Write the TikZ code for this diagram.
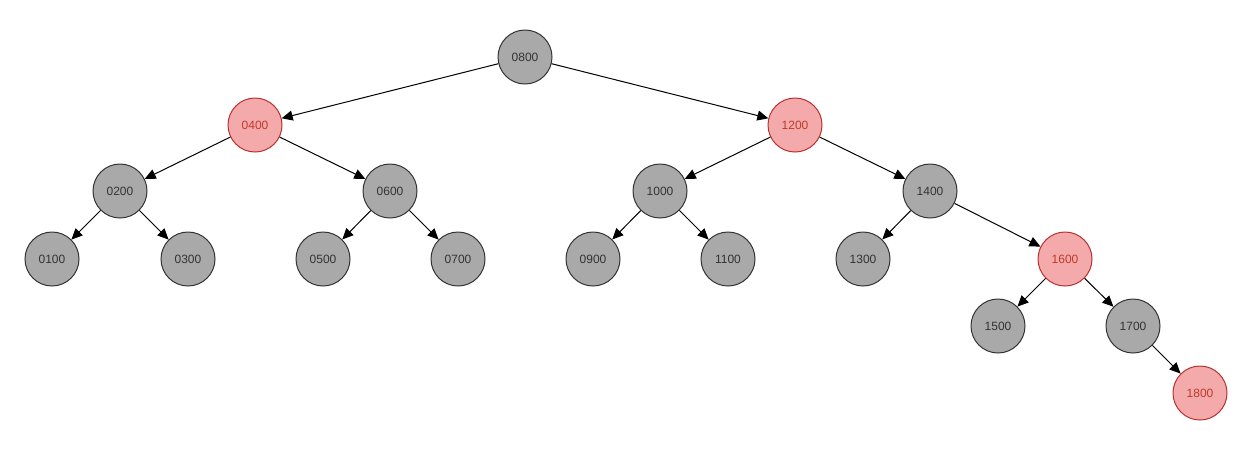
\documentclass[tikz,border=0pt]{standalone}
\usepackage{fontspec}
\setmainfont{Liberation Sans}
\usetikzlibrary{arrows.meta}
\definecolor{gfill}{HTML}{A9A9A9}
\definecolor{gline}{HTML}{333333}
\definecolor{rfill}{HTML}{F4AAAA}
\definecolor{rline}{HTML}{B8312F}
\definecolor{rtext}{HTML}{C0392B}
\begin{document}
\begin{tikzpicture}[x=1pt,y=-1pt,
  blk/.style={circle,minimum size=54pt,inner sep=0pt,fill=gfill,draw=gline,line width=1pt,text=gline,font=\fontsize{12}{14}\selectfont},
  red/.style={circle,minimum size=54pt,inner sep=0pt,fill=rfill,draw=rline,line width=1pt,text=rtext,font=\fontsize{12}{14}\selectfont},
  edge/.style={draw=black,line width=1pt,-{Triangle[length=11pt,width=10pt]}}]
\useasboundingbox (0,0) rectangle (1247,467);
\node[blk] (n0800) at (525,57) {0800};
\node[red] (n0400) at (255,125) {0400};
\node[red] (n1200) at (795,125) {1200};
\node[blk] (n0200) at (120,191) {0200};
\node[blk] (n0600) at (390,191) {0600};
\node[blk] (n1000) at (660,191) {1000};
\node[blk] (n1400) at (930,191) {1400};
\node[blk] (n0100) at (52,259) {0100};
\node[blk] (n0300) at (188,259) {0300};
\node[blk] (n0500) at (323,259) {0500};
\node[blk] (n0700) at (458,259) {0700};
\node[blk] (n0900) at (593,259) {0900};
\node[blk] (n1100) at (728,259) {1100};
\node[blk] (n1300) at (863,259) {1300};
\node[red] (n1600) at (1065,259) {1600};
\node[blk] (n1500) at (998,326) {1500};
\node[blk] (n1700) at (1133,326) {1700};
\node[red] (n1800) at (1200,393) {1800};
\foreach \a/\b in {0800/0400,0800/1200,0400/0200,0400/0600,1200/1000,1200/1400,
  0200/0100,0200/0300,0600/0500,0600/0700,1000/0900,1000/1100,1400/1300,1400/1600,
  1600/1500,1600/1700,1700/1800}
  \draw[edge] (n\a) -- (n\b);
\end{tikzpicture}
\end{document}
